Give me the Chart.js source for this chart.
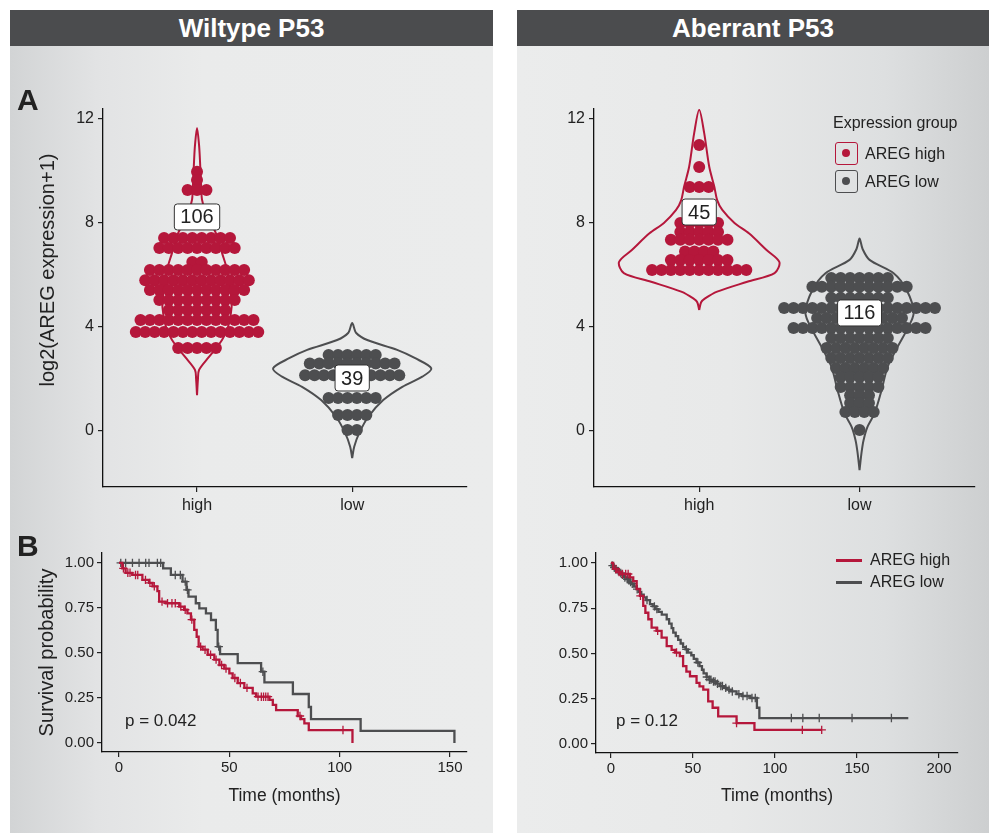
<!DOCTYPE html>
<html>
<head>
<meta charset="utf-8">
<script src="https://cdn.jsdelivr.net/npm/chart.js@4.4.0/dist/chart.umd.min.js"></script>
<style>
body { margin: 0; width: 989px; height: 833px; position: relative; overflow: hidden; background: #fff; font-family: "Liberation Sans", Arial, sans-serif; }
.panel { position: absolute; top: 10px; height: 823px; }
#panel_left { left: 10px; width: 483px; background: linear-gradient(to right, #d2d4d5 0%, #e2e3e4 18%, #eaebeb 40%, #ebecec 100%); }
#panel_right { left: 517px; width: 472px; background: linear-gradient(to right, #ebecec 0%, #e8e9e9 45%, #dddfe0 78%, #cdcfd0 100%); }
.head { position: absolute; top: 10px; height: 36px; line-height: 36px; background: #4b4c4e; color: #fff; font-weight: bold; font-size: 26px; text-align: center; }
canvas { position: absolute; }
.txt { position: absolute; color: #222; white-space: nowrap; line-height: 1; }
.key { position: absolute; width: 23px; height: 23px; border-radius: 3px; box-sizing: border-box; border: 1.5px solid; }
.key span { position: absolute; left: 6px; top: 6px; width: 8px; height: 8px; border-radius: 50%; }
.kline { position: absolute; width: 26px; height: 2.5px; }
</style>
</head>
<body>
<div class="panel" id="panel_left"></div>
<div class="panel" id="panel_right"></div>
<div class="head" style="left:10px;width:483px">Wiltype P53</div>
<div class="head" style="left:517px;width:472px">Aberrant P53</div>

<canvas id="violin_wt" width="483" height="474" style="left:10px;top:46px"></canvas>
<canvas id="violin_ab" width="472" height="474" style="left:517px;top:46px"></canvas>
<canvas id="km_wt" width="483" height="313" style="left:10px;top:520px"></canvas>
<canvas id="km_ab" width="472" height="313" style="left:517px;top:520px"></canvas>

<div class="txt" style="left:17px;top:85px;font-size:30px;font-weight:bold">A</div>
<div class="txt" style="left:17px;top:531px;font-size:30px;font-weight:bold">B</div>
<div class="txt" style="left:47px;top:270px;font-size:20px;transform:translate(-50%,-50%) rotate(-90deg)">log2(AREG expression+1)</div>
<div class="txt" style="left:125px;top:712px;font-size:17px">p = 0.042</div>
<div class="txt" style="left:616px;top:712px;font-size:17px">p = 0.12</div>

<div class="txt" style="left:833px;top:115px;font-size:16px">Expression group</div>
<div class="key" style="left:835px;top:142px;border-color:#b5173b"><span style="background:#b5173b"></span></div>
<div class="txt" style="left:865px;top:146px;font-size:16px">AREG high</div>
<div class="key" style="left:835px;top:170px;border-color:#4d4e50"><span style="background:#4d4e50"></span></div>
<div class="txt" style="left:865px;top:174px;font-size:16px">AREG low</div>

<div class="kline" style="left:836px;top:559px;background:#b5173b"></div>
<div class="txt" style="left:870px;top:552px;font-size:16px">AREG high</div>
<div class="kline" style="left:836px;top:581px;background:#4d4e50"></div>
<div class="txt" style="left:870px;top:574px;font-size:16px">AREG low</div>

<script>
const RED = '#b5173b';
const GREY = '#4d4e50';
const groups = ['high', 'low'];

// A: dot rows, binned level and dots per row
const wt_high_levels = [9.97, 9.65, 9.27, 7.42, 7.04, 6.5, 6.19, 5.8, 5.42, 5.04, 4.65, 4.27, 3.81, 3.19];
const wt_high_counts = [1, 1, 3, 8, 9, 2, 11, 12, 11, 9, 7, 13, 14, 5];
const wt_low_levels = [2.92, 2.6, 2.15, 1.27, 0.62, 0.04];
const wt_low_counts = [6, 10, 11, 6, 4, 2];
const ab_high_levels = [11.0, 10.15, 9.38, 8.4, 8.0, 7.65, 7.35, 6.9, 6.58, 6.19];
const ab_high_counts = [1, 1, 3, 1, 5, 5, 7, 4, 7, 11];
const ab_low_levels = [5.88, 5.55, 5.12, 4.73, 4.35, 3.96, 3.58, 3.19, 2.81, 2.42, 2.08, 1.69, 1.38, 1.08, 0.73, 0.04];
const ab_low_counts = [7, 11, 7, 17, 10, 15, 7, 8, 7, 6, 5, 5, 3, 3, 4, 1];

// A: violin outlines, level and half width of the density
const wt_high_vy = [1.38, 2.0, 2.35, 2.85, 3.5, 4.0, 4.77, 5.5, 6.2, 6.85, 7.5, 8.0, 8.5, 8.9, 9.5, 10.4, 11.0, 11.65];
const wt_high_vw = [0, 0.006, 0.013, 0.077, 0.161, 0.2, 0.223, 0.213, 0.194, 0.161, 0.129, 0.09, 0.052, 0.032, 0.026, 0.019, 0.013, 0];
const wt_low_vy = [-1.04, -0.6, -0.08, 0.54, 1.19, 1.7, 2.09, 2.41, 2.8, 3.12, 3.5, 3.77, 4.15];
const wt_low_vw = [0, 0.013, 0.045, 0.103, 0.2, 0.323, 0.452, 0.51, 0.406, 0.29, 0.097, 0.026, 0];
const ab_high_vy = [4.65, 4.95, 5.1, 5.36, 5.74, 6.07, 6.5, 6.96, 7.6, 8.0, 8.5, 8.88, 9.4, 10.15, 11.46, 12.35];
const ab_high_vw = [0, 0.012, 0.037, 0.112, 0.3, 0.47, 0.5, 0.42, 0.31, 0.22, 0.144, 0.112, 0.094, 0.063, 0.031, 0];
const ab_low_vy = [-1.5, -0.8, -0.35, 0.17, 0.69, 1.58, 2.47, 3.24, 3.88, 4.54, 5.42, 6.07, 6.58, 7.0, 7.4];
const ab_low_vw = [0, 0.013, 0.025, 0.05, 0.094, 0.1375, 0.175, 0.2375, 0.294, 0.3375, 0.294, 0.2125, 0.0625, 0.019, 0];

// B: Kaplan-Meier steps (months, survival) and censored times
const wt_high_time = [0, 1.5, 3, 6, 10.6, 13.6, 15.2, 17.4, 18.2, 21.2, 27.3, 29.5, 31, 32.6, 34.1, 35.2, 36.1, 37.9, 40.2, 43.2, 45.5, 47.7, 50, 51.5, 53.8, 56.8, 60.6, 62.1, 68.2, 69.7, 71.2, 81, 82.5, 84, 86, 105.8];
const wt_high_surv = [1, 0.97, 0.945, 0.933, 0.906, 0.889, 0.87, 0.843, 0.785, 0.776, 0.757, 0.74, 0.72, 0.685, 0.628, 0.59, 0.535, 0.518, 0.49, 0.463, 0.433, 0.413, 0.387, 0.361, 0.333, 0.306, 0.276, 0.257, 0.239, 0.212, 0.183, 0.15, 0.133, 0.109, 0.072, 0];
const wt_high_cens = [2, 4, 5, 7.5, 8.5, 12, 14, 16, 19.5, 22, 24, 25.5, 28, 30, 33, 37, 39, 41.5, 44, 46.5, 48.5, 52.5, 55, 58, 63, 64.5, 65.5, 66.5, 67.5, 82, 101.5];
const wt_low_time = [0, 20, 23.5, 28.8, 30.6, 31.5, 34.8, 36.4, 39.4, 41.7, 43.9, 44.7, 45.8, 53.8, 64.4, 65.9, 78.8, 86, 87, 109.5, 152];
const wt_low_surv = [1, 0.97, 0.933, 0.896, 0.85, 0.813, 0.776, 0.748, 0.72, 0.683, 0.628, 0.535, 0.494, 0.443, 0.396, 0.337, 0.272, 0.2, 0.133, 0.067, 0];
const wt_low_cens = [0.8, 3, 6.1, 9.1, 12.1, 13.6, 17.4, 18.9, 25.5, 27.8, 30, 31, 45.2, 65.2];

const ab_high_time = [0, 1.4, 3.5, 5.5, 11.6, 13.6, 15.7, 17.7, 19.7, 21, 22.8, 24.8, 27.8, 30.9, 34, 37, 39, 42, 44, 46, 48.2, 52.2, 54, 56.3, 59.3, 62, 65.4, 76.6, 87.5, 128.5];
const ab_high_surv = [1, 0.967, 0.95, 0.939, 0.92, 0.9, 0.856, 0.818, 0.763, 0.725, 0.689, 0.643, 0.625, 0.587, 0.541, 0.52, 0.505, 0.485, 0.43, 0.4, 0.374, 0.337, 0.318, 0.3, 0.235, 0.2, 0.152, 0.115, 0.078, 0.078];
const ab_high_cens = [3, 5, 7, 9, 10.5, 18, 28.5, 40, 76.6, 116.7, 128.5];
const ab_low_time = [0, 0.5, 1.5, 2.5, 4, 5, 6.5, 8, 9.5, 11, 12.5, 14, 15.7, 17, 18.5, 20, 21.5, 23.8, 25.5, 27, 29, 31, 34, 35.5, 37, 38, 39.5, 41, 42.5, 44, 45.5, 47, 49, 50.5, 52.2, 54, 55.5, 56.5, 58.3, 60, 62, 64, 66.5, 69, 71, 73, 76.6, 80, 85, 89, 90.5, 181.3];
const ab_low_surv = [1, 0.985, 0.975, 0.965, 0.955, 0.945, 0.935, 0.92, 0.91, 0.895, 0.885, 0.87, 0.855, 0.84, 0.825, 0.81, 0.795, 0.772, 0.76, 0.745, 0.73, 0.715, 0.689, 0.665, 0.64, 0.615, 0.596, 0.575, 0.555, 0.535, 0.522, 0.505, 0.49, 0.47, 0.45, 0.43, 0.41, 0.39, 0.37, 0.355, 0.345, 0.333, 0.32, 0.31, 0.3, 0.29, 0.275, 0.265, 0.254, 0.2, 0.143, 0.143];
const ab_low_cens = [1, 2, 3, 4.5, 6, 7, 8.5, 10, 12, 13, 16, 22, 26.5, 28, 46, 53, 58.5, 60, 61, 62.5, 63.5, 65, 67, 68, 70, 72, 74, 78, 80.5, 83, 86, 88, 110, 117, 127, 147, 171];

Chart.defaults.font.family = '"Liberation Sans", Arial, sans-serif';
Chart.defaults.color = '#222';

function dot_points(center, levels, counts, step) {
    const pts = [];
    levels.forEach((v, i) => {
        const n = counts[i];
        for (let j = 0; j < n; j++) pts.push({x: center + (j - (n - 1) / 2) * step, y: v});
    });
    return pts;
}

function violin_points(center, ys, ws) {
    const right = ys.map((y, i) => ({x: center + ws[i], y: y}));
    const left = ys.map((y, i) => ({x: center - ws[i], y: y})).reverse().slice(1);
    return right.concat(left);
}

function surv_at(times, surv, t) {
    let s = surv[0];
    times.forEach((v, i) => { if (v <= t) s = surv[i]; });
    return s;
}

const total = arr => arr.reduce((a, b) => a + b, 0);

// white boxes with the group size
const count_labels = {
    id: 'count_labels',
    afterDatasetsDraw(chart, args, opts) {
        const {ctx, scales: {x, y}} = chart;
        ctx.save();
        ctx.font = '20px "Liberation Sans", Arial, sans-serif';
        opts.items.forEach(it => {
            const px = x.getPixelForValue(it.x), py = y.getPixelForValue(it.y);
            const w = ctx.measureText(it.text).width + 12, h = 26;
            ctx.beginPath();
            ctx.roundRect(px - w / 2, py - h / 2, w, h, 3);
            ctx.fillStyle = '#fff';
            ctx.fill();
            ctx.lineWidth = 1;
            ctx.strokeStyle = '#333';
            ctx.stroke();
            ctx.fillStyle = '#222';
            ctx.textAlign = 'center';
            ctx.textBaseline = 'middle';
            ctx.fillText(it.text, px, py + 1);
        });
        ctx.restore();
    }
};

function axis_common(size) {
    return {
        grid: {drawOnChartArea: false, drawTicks: true, tickLength: 5, color: '#222', lineWidth: 1.2},
        border: {display: true, color: '#111', width: 1.3},
        ticks: {font: {size: size}, color: '#222', maxRotation: 0, autoSkip: false}
    };
}

function draw_violin(id, cfg) {
    const xs = axis_common(16), ys = axis_common(16);
    new Chart(document.getElementById(id), {
        type: 'scatter',
        data: {datasets: [
            {data: violin_points(1, cfg.high_vy, cfg.high_vw), showLine: true, tension: 0.3, borderColor: RED, borderWidth: 2, pointRadius: 0, fill: false, order: 2},
            {data: violin_points(2, cfg.low_vy, cfg.low_vw), showLine: true, tension: 0.3, borderColor: GREY, borderWidth: 2, pointRadius: 0, fill: false, order: 2},
            {data: dot_points(1, cfg.high_levels, cfg.high_counts, cfg.step), backgroundColor: RED, pointRadius: 6, pointBorderWidth: 0, order: 1},
            {data: dot_points(2, cfg.low_levels, cfg.low_counts, cfg.step), backgroundColor: GREY, pointRadius: 6, pointBorderWidth: 0, order: 1}
        ]},
        options: {
            responsive: false,
            animation: false,
            layout: {padding: cfg.padding},
            plugins: {
                legend: {display: false},
                tooltip: {enabled: false},
                count_labels: {items: [
                    {x: 1, y: cfg.high_label, text: String(total(cfg.high_counts))},
                    {x: 2, y: cfg.low_label, text: String(total(cfg.low_counts))}
                ]}
            },
            scales: {
                x: Object.assign(xs, {
                    type: 'linear', min: cfg.xmin, max: cfg.xmax,
                    afterBuildTicks: s => { s.ticks = [{value: 1}, {value: 2}]; },
                    afterFit: s => { s.height = 33; }
                }),
                y: Object.assign(ys, {
                    type: 'linear', min: -2.15, max: 12.38,
                    afterBuildTicks: s => { s.ticks = [0, 4, 8, 12].map(v => ({value: v})); },
                    afterFit: s => { s.width = cfg.yw; }
                })
            }
        },
        plugins: [count_labels]
    });
    const c = Chart.getChart(id);
    c.options.scales.x.ticks.callback = v => groups[v - 1];
    c.options.scales.x.ticks.padding = 4;
    c.options.scales.y.ticks.padding = 4;
    c.update();
}

function draw_km(id, cfg) {
    const line = (t, s, color) => ({
        type: 'line', data: t.map((v, i) => ({x: v, y: s[i]})), stepped: 'before',
        borderColor: color, borderWidth: 2.3, pointRadius: 0, fill: false
    });
    const marks = (t, s, cens, color) => ({
        type: 'scatter', data: cens.map(v => ({x: v, y: surv_at(t, s, v)})),
        pointStyle: 'cross', pointRadius: 4.2, borderColor: color, pointBorderWidth: 1.3, showLine: false
    });
    const xs = axis_common(15), ys = axis_common(15);
    new Chart(document.getElementById(id), {
        type: 'line',
        data: {datasets: [
            line(cfg.high_time, cfg.high_surv, RED),
            marks(cfg.high_time, cfg.high_surv, cfg.high_cens, RED),
            line(cfg.low_time, cfg.low_surv, GREY),
            marks(cfg.low_time, cfg.low_surv, cfg.low_cens, GREY)
        ]},
        options: {
            responsive: false,
            animation: false,
            layout: {padding: cfg.padding},
            plugins: {legend: {display: false}, tooltip: {enabled: false}},
            scales: {
                x: Object.assign(xs, {
                    type: 'linear', min: cfg.xmin, max: cfg.xmax,
                    afterBuildTicks: s => { s.ticks = cfg.xticks.map(v => ({value: v})); },
                    afterFit: s => { s.height = cfg.xh; },
                    title: {display: true, text: 'Time (months)', font: {size: 17.5}, color: '#222', padding: {top: 0, bottom: 2}}
                }),
                y: Object.assign(ys, {
                    type: 'linear', min: -0.05, max: 1.055,
                    afterBuildTicks: s => { s.ticks = [0, 0.25, 0.5, 0.75, 1].map(v => ({value: v})); },
                    afterFit: s => { s.width = cfg.yw; },
                    title: {display: cfg.ytitle, text: 'Survival probability', font: {size: 20}, color: '#222', padding: {top: 6, bottom: 0}}
                })
            }
        }
    });
    const c = Chart.getChart(id);
    c.options.scales.y.ticks.callback = v => v.toFixed(2);
    c.options.scales.x.ticks.padding = 2;
    c.options.scales.y.ticks.padding = 3;
    c.update();
}

draw_violin('violin_wt', {
    high_levels: wt_high_levels, high_counts: wt_high_counts, low_levels: wt_low_levels, low_counts: wt_low_counts,
    high_vy: wt_high_vy, high_vw: wt_high_vw, low_vy: wt_low_vy, low_vw: wt_low_vw,
    high_label: 8.23, low_label: 2.04, step: 0.0607,
    xmin: 0.394, xmax: 2.74, yw: 93, padding: {left: 0, right: 26, top: 63, bottom: 0}
});
draw_violin('violin_ab', {
    high_levels: ab_high_levels, high_counts: ab_high_counts, low_levels: ab_low_levels, low_counts: ab_low_counts,
    high_vy: ab_high_vy, high_vw: ab_high_vw, low_vy: ab_low_vy, low_vw: ab_low_vw,
    high_label: 8.42, low_label: 4.54, step: 0.0588,
    xmin: 0.344, xmax: 2.72, yw: 77, padding: {left: 0, right: 14, top: 63, bottom: 0}
});
draw_km('km_wt', {
    high_time: wt_high_time, high_surv: wt_high_surv, high_cens: wt_high_cens,
    low_time: wt_low_time, low_surv: wt_low_surv, low_cens: wt_low_cens,
    xmin: -7.7, xmax: 157.7, xticks: [0, 50, 100, 150], xh: 57, yw: 73, ytitle: true,
    padding: {left: 19, right: 26, top: 33, bottom: 24}
});
draw_km('km_ab', {
    high_time: ab_high_time, high_surv: ab_high_surv, high_cens: ab_high_cens,
    low_time: ab_low_time, low_surv: ab_low_surv, low_cens: ab_low_cens,
    xmin: -9.1, xmax: 211.6, xticks: [0, 50, 100, 150, 200], xh: 56, yw: 79, ytitle: false,
    padding: {left: 0, right: 31, top: 33, bottom: 24}
});
</script>
</body>
</html>
